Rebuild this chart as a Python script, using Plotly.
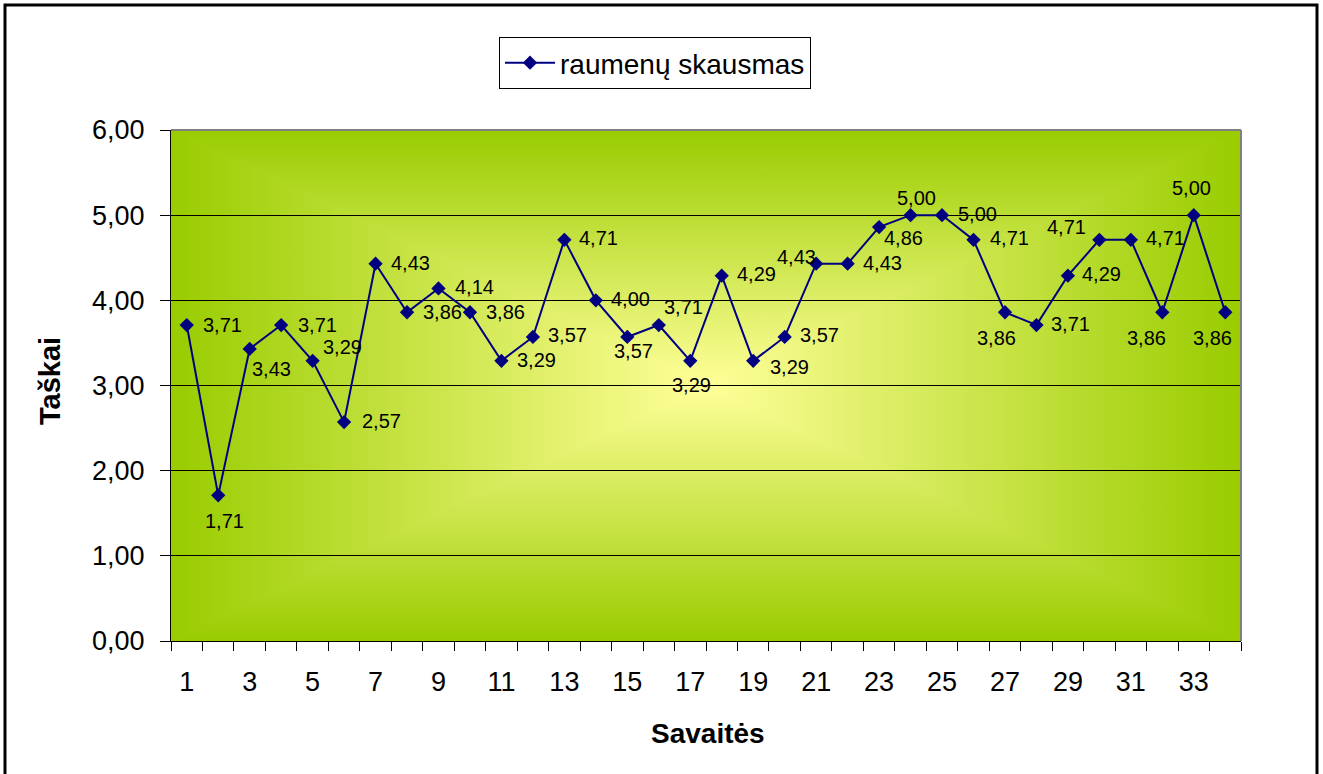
import base64
import plotly.graph_objects as go

# ---- data ----
weeks = list(range(1, 35))
pain = [3.71, 1.71, 3.43, 3.71, 3.29, 2.57, 4.43, 3.86, 4.14, 3.86,
        3.29, 3.57, 4.71, 4.00, 3.57, 3.71, 3.29, 4.29, 3.29, 3.57,
        4.43, 4.43, 4.86, 5.00, 5.00, 4.71, 3.86, 3.71, 4.29, 4.71,
        4.71, 3.86, 5.00, 3.86]
series_name = "raumenų skausmas"
x_title = "Savaitės"
y_title = "Taškai"
y_ticks = [0, 1, 2, 3, 4, 5, 6]

# label offsets (pixels, centre of label relative to the marker)
label_offsets = [(36, 0), (6, 26), (22, 20), (36, 0), (30, -14), (37, -1), (35, -1),
                 (35, 0), (36, -1), (36, 0), (35, -1), (35, -2), (34, -2), (35, -1),
                 (6, 14), (25, -18), (1, 24), (35, -2), (36, 6), (35, -2), (-20, -7),
                 (35, -1), (24, 11), (6, -17), (35, -1), (36, -2), (-8, 26), (34, -1),
                 (34, -2), (-33, -13), (35, -2), (-16, 26), (-2, -27), (-13, 26)]

# ---- geometry ----
W, H = 1323, 774
L, R, T, B = 171, 1241, 130, 641


def px_x(p):
    return (p - L) / (R - L)


def px_y(p):
    return (B - p) / (B - T)


NAVY = "#000080"
FONT = "Liberation Sans, Arial, sans-serif"

# gradient background (rectangular "from centre" gradient)
c_in, c_out = "#FFFF99", "#99CC00"
svg = f"""<svg xmlns='http://www.w3.org/2000/svg' width='1070' height='511' viewBox='0 0 100 100' preserveAspectRatio='none' shape-rendering='crispEdges'>
<defs>
<linearGradient id='t' gradientUnits='userSpaceOnUse' x1='0' y1='50' x2='0' y2='0'><stop offset='0' stop-color='{c_in}'/><stop offset='1' stop-color='{c_out}'/></linearGradient>
<linearGradient id='b' gradientUnits='userSpaceOnUse' x1='0' y1='50' x2='0' y2='100'><stop offset='0' stop-color='{c_in}'/><stop offset='1' stop-color='{c_out}'/></linearGradient>
<linearGradient id='l' gradientUnits='userSpaceOnUse' x1='50' y1='0' x2='0' y2='0'><stop offset='0' stop-color='{c_in}'/><stop offset='1' stop-color='{c_out}'/></linearGradient>
<linearGradient id='r' gradientUnits='userSpaceOnUse' x1='50' y1='0' x2='100' y2='0'><stop offset='0' stop-color='{c_in}'/><stop offset='1' stop-color='{c_out}'/></linearGradient>
</defs>
<polygon points='0,0 100,0 50,50' fill='url(#t)' shape-rendering='crispEdges'/>
<polygon points='0,100 100,100 50,50' fill='url(#b)' shape-rendering='crispEdges'/>
<polygon points='0,0 0,100 50,50' fill='url(#l)' shape-rendering='crispEdges'/>
<polygon points='100,0 100,100 50,50' fill='url(#r)' shape-rendering='crispEdges'/>
</svg>"""
svg_uri = "data:image/svg+xml;base64," + base64.b64encode(svg.encode()).decode()

fig = go.Figure()
fig.add_trace(go.Scatter(
    x=weeks, y=pain, name=series_name, mode="lines+markers",
    line=dict(color=NAVY, width=2),
    marker=dict(symbol="diamond", size=11, color=NAVY),
    showlegend=True,
))

annotations = []
for xv, yv, (dx, dy) in zip(weeks, pain, label_offsets):
    annotations.append(dict(
        x=xv, y=yv, xref="x", yref="y", text=f"{yv:.2f}".replace(".", ","),
        showarrow=False, xanchor="center", yanchor="middle",
        xshift=dx, yshift=-dy, font=dict(size=20, color="black", family=FONT),
    ))
annotations.append(dict(
    x=px_x(50), y=px_y(381), xref="paper", yref="paper", text=y_title,
    textangle=-90, showarrow=False, xanchor="center", yanchor="middle",
    font=dict(size=29, color="black", family=FONT, weight="bold"),
))
annotations.append(dict(
    x=px_x(708), y=px_y(733), xref="paper", yref="paper", text=x_title,
    showarrow=False, xanchor="center", yanchor="middle",
    font=dict(size=28, color="black", family=FONT, weight="bold"),
))

shapes = [
    # plot-area border (top + right, grey)
    dict(type="line", xref="paper", yref="paper", x0=0, x1=1, y0=1, y1=1,
         line=dict(color="#808080", width=2), layer="above"),
    dict(type="line", xref="paper", yref="paper", x0=1, x1=1, y0=0, y1=1,
         line=dict(color="#808080", width=2), layer="above"),
    # outer chart border
    dict(type="rect", xref="paper", yref="paper",
         x0=px_x(5), x1=px_x(1317), y0=px_y(790), y1=px_y(5),
         line=dict(color="black", width=3), fillcolor="rgba(0,0,0,0)", layer="above"),
]

n = len(weeks)
fig.update_layout(
    width=W, height=H,
    margin=dict(l=L, r=W - R, t=T, b=H - B, pad=0),
    paper_bgcolor="white", plot_bgcolor="rgba(0,0,0,0)",
    separators=",.",
    font=dict(family=FONT, color="black", size=26),
    images=[dict(source=svg_uri, xref="paper", yref="paper", x=0, y=1,
                 sizex=1, sizey=1, sizing="stretch", xanchor="left", yanchor="top",
                 layer="below")],
    annotations=annotations,
    shapes=shapes,
    legend=dict(
        x=px_x(655), y=px_y(37), xanchor="center", yanchor="top",
        bgcolor="white", bordercolor="black", borderwidth=1,
        font=dict(size=28, family=FONT, color="black"),
        itemwidth=50,
    ),
    xaxis=dict(
        range=[0.5, n + 0.5], tickmode="array",
        tickvals=weeks[::2], ticktext=[str(w) for w in weeks[::2]],
        ticks="", showgrid=False, zeroline=False,
        showline=True, linecolor="black", linewidth=1,
        tickfont=dict(size=27, family=FONT, color="black"),
        ticklabelstandoff=17,
        minor=dict(tickmode="array", tickvals=[k + 0.5 for k in range(0, n + 1)],
                   ticks="outside", ticklen=9, tickwidth=1, tickcolor="black",
                   showgrid=False),
    ),
    yaxis=dict(
        range=[y_ticks[0], y_ticks[-1]], tickmode="array", tickvals=y_ticks,
        tickformat=".2f", ticks="outside", ticklen=10, tickwidth=1, tickcolor="black",
        showgrid=True, gridcolor="black", gridwidth=1, zeroline=False,
        showline=True, linecolor="black", linewidth=1,
        tickfont=dict(size=27, family=FONT, color="black"),
        ticklabelstandoff=10,
    ),
)

fig.write_html("out.html")
